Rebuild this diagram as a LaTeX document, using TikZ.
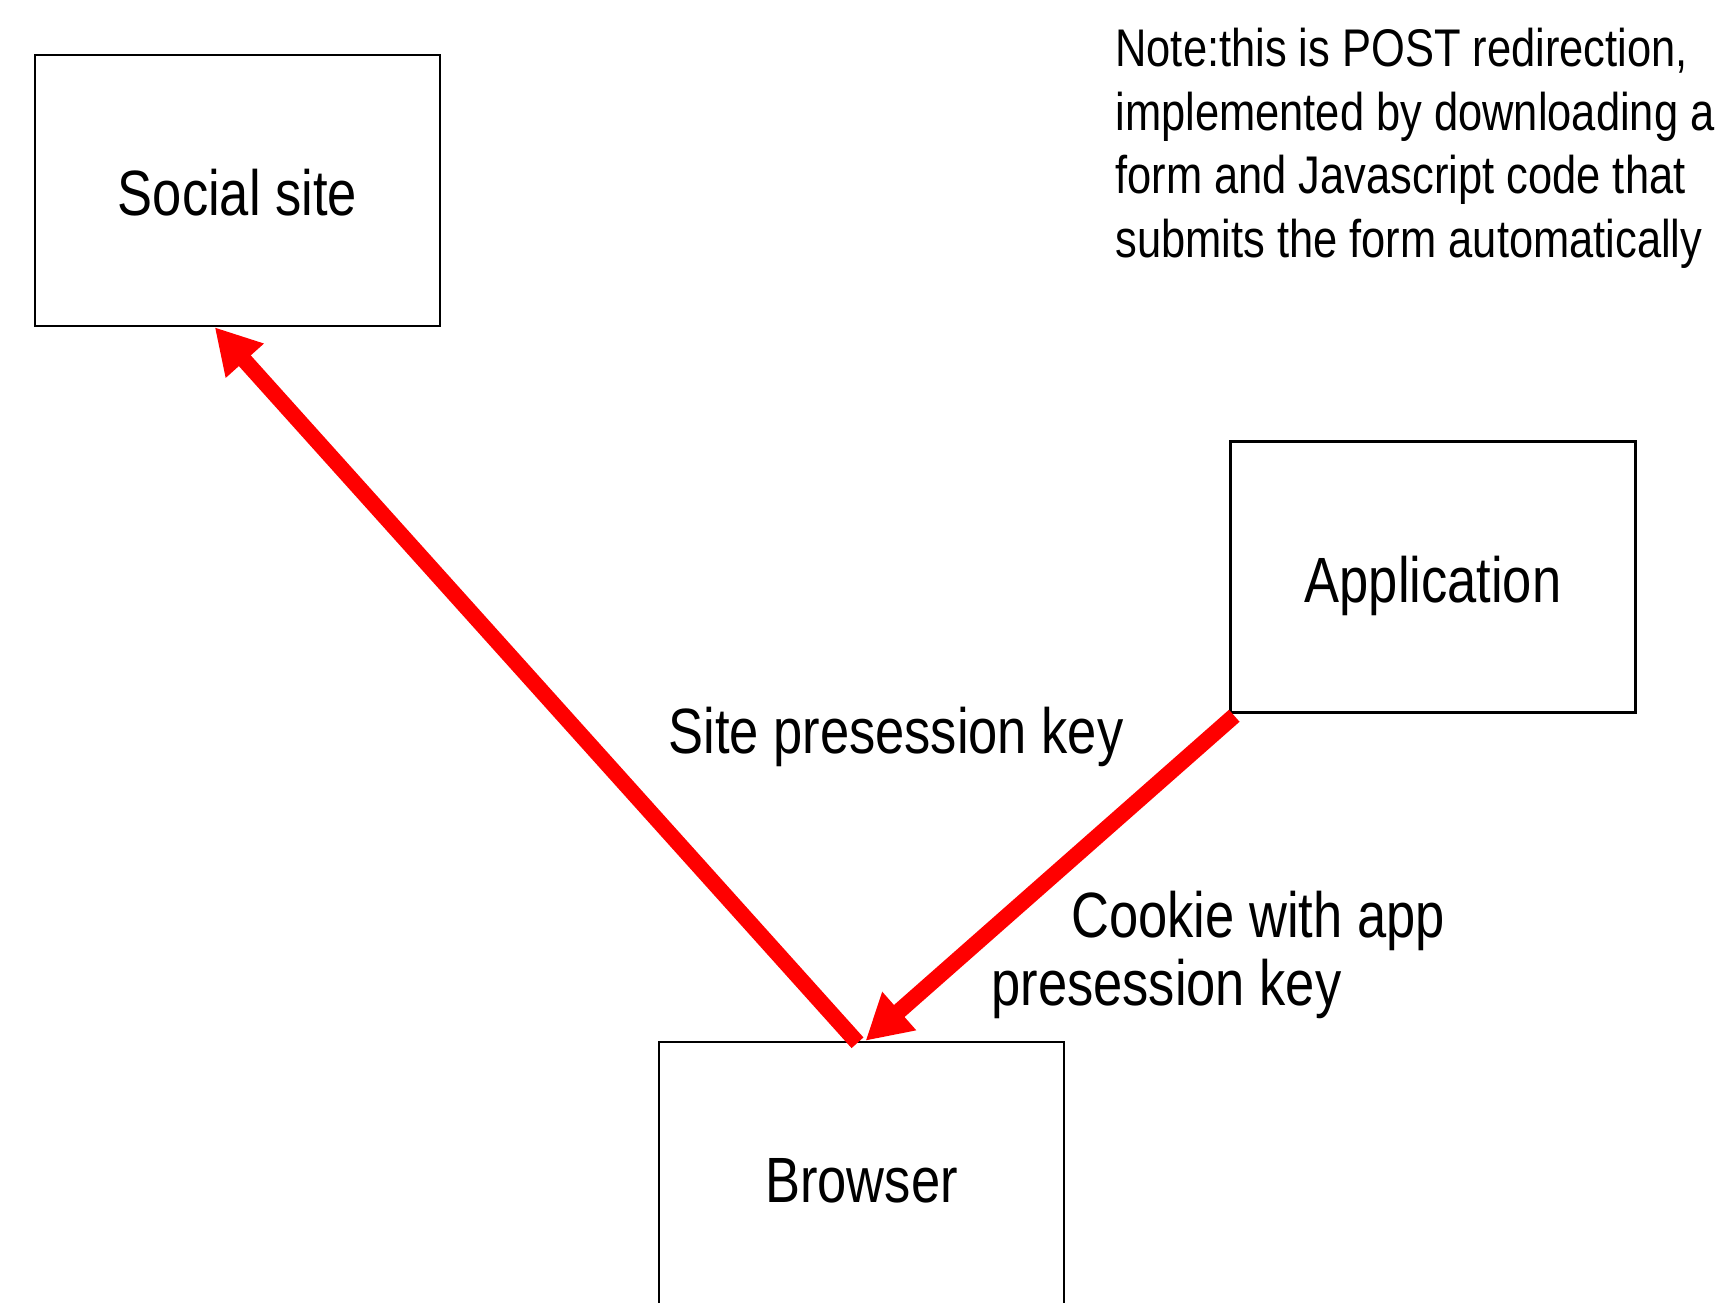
\documentclass[tikz,border=0pt]{standalone}
\usepackage{fontspec}
\setmainfont{Liberation Sans}[FakeStretch=0.82]
\usetikzlibrary{arrows.meta,calc}
\begin{document}
\begin{tikzpicture}[x=0.5pt,y=-0.5pt,
  box/.style={draw=black,line width=1.25pt,rectangle,minimum width=202.5pt,minimum height=135.5pt,inner sep=0pt,text height=25pt,text depth=0pt,font=\fontsize{32pt}{38pt}\selectfont},
  lbl/.style={inner sep=0pt,anchor=base west,font=\fontsize{32pt}{33.85pt}\selectfont,align=left},
  note/.style={inner sep=0pt,anchor=base west,font=\fontsize{26.5pt}{31.75pt}\selectfont,align=left},
  redarrow/.style={draw={rgb,255:red,255;green,0;blue,0},line width=8pt,-{Triangle[length=22.5pt,width=24pt]}}]
\useasboundingbox (0,0) rectangle (1723,1302);
\fill[white] (0,0) rectangle (1723,1302);
\node[box] (social) at (237.5,190.5) {Social site};
\node[box] (app) at (1433,577) {Application};
\node[box] (browser) at (861.5,1177.5) {Browser};
\node[note] (notetext) at (1115,257) {Note:this is POST redirection,\\implemented by downloading a\\form and Javascript code that\\submits the form automatically};
\node[lbl] (sitekey) at (668,753) {Site presession key};
\node[lbl] (cookie) at (991,1005) {\hspace*{40pt}Cookie with app\\presession key};
\coordinate (tip1) at ($(social.south west)+(181,0)$);
\coordinate (start1) at ($(browser.north)+(-4,2)$);
\coordinate (tip2) at ($(browser.north)+(4,0)$);
\coordinate (start2) at ($(app.south west)+(5,2)$);
\draw[redarrow] (start1) -- (tip1);
\draw[redarrow] (start2) -- (tip2);
\end{tikzpicture}
\end{document}
